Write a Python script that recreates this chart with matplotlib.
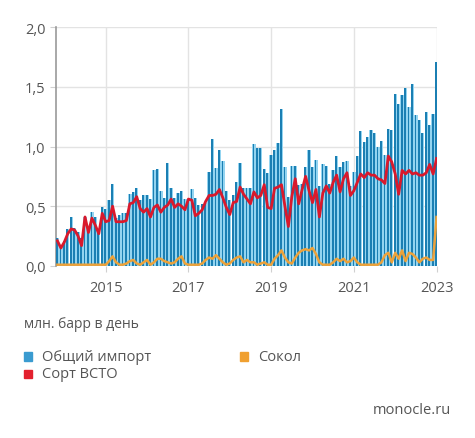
import numpy as np
import matplotlib.pyplot as plt
from matplotlib.patches import Rectangle

plt.rcParams['font.family'] = ['Open Sans', 'DejaVu Sans']

# monthly data, Nov 2013 .. Jan 2023
start_year = 2013
start_month = 11

total = [0.23, 0.17, 0.21, 0.31, 0.41, 0.32, 0.28, 0.23, 0.41, 0.31,
         0.45, 0.41, 0.31, 0.49, 0.48, 0.55, 0.69, 0.40, 0.43, 0.44,
         0.44, 0.60, 0.62, 0.65, 0.55, 0.59, 0.59, 0.56, 0.80, 0.81,
         0.63, 0.57, 0.86, 0.65, 0.57, 0.61, 0.63, 0.56, 0.55, 0.64,
         0.57, 0.51, 0.52, 0.53, 0.79, 1.06, 0.82, 0.97, 0.88, 0.63,
         0.55, 0.59, 0.70, 0.86, 0.65, 0.65, 0.65, 1.02, 0.99, 0.99,
         0.81, 0.78, 0.93, 0.97, 1.03, 1.31, 0.83, 0.58, 0.84, 0.84,
         0.68, 0.69, 0.83, 0.97, 0.83, 0.89, 0.67, 0.85, 0.84, 0.69,
         0.80, 0.92, 0.83, 0.87, 0.88, 0.67, 0.79, 0.92, 1.13, 1.04,
         1.08, 1.14, 1.11, 1.00, 1.05, 0.93, 1.15, 1.14, 1.44, 1.36,
         1.43, 1.49, 1.33, 1.52, 1.26, 1.22, 1.11, 1.29, 1.18, 1.27,
         1.71]

espo = [0.21, 0.15, 0.20, 0.27, 0.31, 0.30, 0.25, 0.17, 0.41, 0.28,
        0.40, 0.34, 0.27, 0.44, 0.37, 0.38, 0.50, 0.37, 0.37, 0.37,
        0.38, 0.52, 0.53, 0.58, 0.48, 0.45, 0.48, 0.41, 0.49, 0.51,
        0.45, 0.49, 0.51, 0.56, 0.49, 0.52, 0.50, 0.47, 0.56, 0.55,
        0.42, 0.44, 0.47, 0.54, 0.59, 0.59, 0.60, 0.64, 0.57, 0.49,
        0.43, 0.53, 0.54, 0.66, 0.60, 0.56, 0.52, 0.62, 0.57, 0.59,
        0.68, 0.49, 0.48, 0.65, 0.66, 0.68, 0.50, 0.33, 0.58, 0.73,
        0.52, 0.64, 0.75, 0.63, 0.53, 0.64, 0.41, 0.61, 0.67, 0.61,
        0.70, 0.76, 0.62, 0.73, 0.78, 0.59, 0.63, 0.70, 0.77, 0.74,
        0.78, 0.76, 0.76, 0.73, 0.72, 0.69, 0.92, 0.87, 0.77, 0.60,
        0.80, 0.77, 0.80, 0.77, 0.78, 0.76, 0.76, 0.78, 0.85, 0.77,
        0.90]

sokol = [0.01, 0.01, 0.01, 0.01, 0.01, 0.01, 0.01, 0.01, 0.01, 0.01,
         0.01, 0.01, 0.01, 0.01, 0.01, 0.04, 0.08, 0.03, 0.01, 0.01,
         0.02, 0.04, 0.05, 0.02, 0.01, 0.03, 0.05, 0.01, 0.03, 0.06,
         0.06, 0.04, 0.03, 0.02, 0.03, 0.06, 0.08, 0.02, 0.01, 0.01,
         0.01, 0.01, 0.02, 0.05, 0.07, 0.06, 0.09, 0.06, 0.03, 0.01,
         0.02, 0.05, 0.07, 0.08, 0.03, 0.05, 0.03, 0.03, 0.01, 0.02,
         0.03, 0.01, 0.01, 0.06, 0.09, 0.13, 0.07, 0.03, 0.02, 0.07,
         0.11, 0.13, 0.14, 0.13, 0.15, 0.10, 0.03, 0.01, 0.01, 0.01,
         0.03, 0.06, 0.04, 0.06, 0.03, 0.04, 0.07, 0.03, 0.01, 0.01,
         0.01, 0.01, 0.01, 0.01, 0.03, 0.09, 0.11, 0.03, 0.11, 0.06,
         0.13, 0.04, 0.11, 0.10, 0.07, 0.03, 0.06, 0.07, 0.05, 0.05,
         0.41]

year_ticks = [2015, 2017, 2019, 2021, 2023]
y_ticks = [0.0, 0.5, 1.0, 1.5, 2.0]
y_labels = ['0,0', '0,5', '1,0', '1,5', '2,0']

x = start_year + (start_month - 1) / 12 + np.arange(len(total)) / 12

c_dark = '#1b7fb3'
c_light = '#93d4f0'
c_red = '#d9192c'
c_orange = '#eda23a'
c_text = '#555555'

fig = plt.figure(figsize=(4.75, 4.39), dpi=100)
ax = fig.add_axes([0.118, 0.392, 0.802, 0.544])

m = 1 / 12
ax.bar(x, total, width=0.98 * m, color=c_light, linewidth=0, zorder=2)
ax.bar(x - 0.12 * m, total, width=0.52 * m, color=c_dark, linewidth=0, zorder=3)
ax.plot(x, sokol, color=c_orange, lw=1.8, zorder=4, solid_joinstyle='round')
ax.plot(x, espo, color=c_red, lw=2.0, zorder=5, solid_joinstyle='round')

ax.set_xlim(2013.80, 2023.01)
ax.set_ylim(0, 2.0)
ax.set_xticks(year_ticks)
ax.set_xticklabels([str(t) for t in year_ticks])
ax.set_yticks(y_ticks)
ax.set_yticklabels(y_labels)
ax.grid(True, color='#e3e3e3', lw=1, zorder=0)
ax.set_axisbelow(True)
for s in ['top', 'right', 'bottom']:
    ax.spines[s].set_visible(False)
ax.spines['left'].set_color('#9a9a9a')
ax.spines['left'].set_linewidth(1.2)
ax.tick_params(axis='both', colors='#d0d0d0', labelcolor=c_text, labelsize=10.5, length=4)
ax.tick_params(axis='x', pad=6)

fig.text(0.05, 0.26, 'млн. барр в день', fontsize=10, color=c_text, va='center')

legend = [('Общий импорт', '#3a9bd0', 0.05, 0.185),
          ('Сорт ВСТО', '#e3202e', 0.05, 0.146),
          ('Сокол', '#f0a030', 0.505, 0.185)]
for label, col, lx, ly in legend:
    fig.patches.append(Rectangle((lx, ly - 0.009), 0.018, 0.019, color=col,
                                 transform=fig.transFigure, figure=fig))
    fig.text(lx + 0.038, ly, label, fontsize=10.5, color=c_text, va='center')

fig.text(0.95, 0.066, 'monocle.ru', fontsize=10.5, color=c_text, ha='right', va='center')

fig.savefig('out.png', dpi=100)
